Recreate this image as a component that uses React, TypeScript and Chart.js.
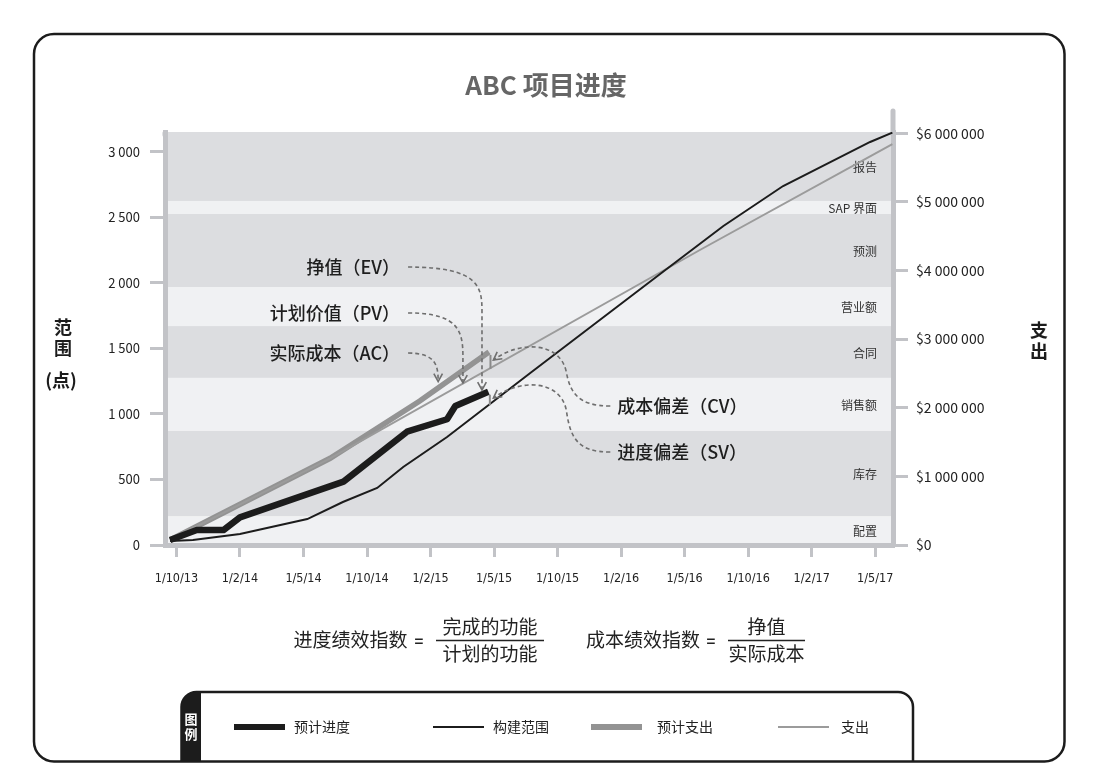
import React, { useEffect, useRef } from 'react';
import { Chart, registerables } from 'chart.js';

Chart.register(...registerables);

const CJK = '"Noto Sans CJK SC", "Noto Sans", sans-serif';
const COND = '"DejaVu Sans Condensed", "Liberation Sans Narrow", "DejaVu Sans", sans-serif';

// ---------- data ----------
const X_LABELS = ['1/10/13', '1/2/14', '1/5/14', '1/10/14', '1/2/15', '1/5/15', '1/10/15', '1/2/16', '1/5/16', '1/10/16', '1/2/17', '1/5/17'];
const LEFT_TICKS = [0, 500, 1000, 1500, 2000, 2500, 3000];
const RIGHT_TICKS = [0, 1000000, 2000000, 3000000, 4000000, 5000000, 6000000];

// 预计进度 (points)
const PROGRESS_X = [-0.1, 0.32, 0.74, 1.0, 2.63, 3.63, 4.26, 4.39, 4.91];
const PROGRESS_Y = [38, 114, 114, 211, 483, 864, 959, 1060, 1169];

// 构建范围 (points)
const SCOPE_X = [-0.1, 0.26, 1.0, 2.06, 2.62, 3.16, 3.57, 4.26, 5.57, 7.65, 8.61, 9.55, 10.92, 11.27];
const SCOPE_Y = [31, 38, 84, 198, 328, 435, 595, 824, 1312, 2080, 2433, 2738, 3074, 3145];

// 预计支出 ($)
const PLANNED_SPEND_X = [-0.1, 2.42, 3.83, 4.92];
const PLANNED_SPEND_Y = [73000, 1264000, 2099000, 2813000];

// 支出 ($)
const SPEND_X = [-0.1, 2.42, 8.24, 11.27];
const SPEND_Y = [73000, 1264000, 4300000, 5845000];

// background bands (in points)
const BAND_EDGES = [0, 220, 870, 1275, 1670, 1968, 2525, 2624, 3150];
const BAND_NAMES = ['配置', '库存', '销售额', '合同', '营业额', '预测', 'SAP 界面', '报告'];

// annotations (x in tick index units, y in points)
const ANNO_TEXT = ['挣值（EV）', '计划价值（PV）', '实际成本（AC）', '成本偏差（CV）', '进度偏差（SV）'];
const ANNO_LABEL_X = [3.52, 3.52, 3.52, 6.94, 6.94];
const ANNO_LABEL_Y = [2120, 1770, 1464, 1060, 709];
const ANNO_TIP_X = [4.81, 4.51, 4.12, 4.99, 4.99];
const ANNO_TIP_Y = [1182, 1236, 1246, 1411, 1121];
const ANNO_SIDE = ['left', 'left', 'left', 'right', 'right'];

const TITLE = 'ABC 项目进度';
const LEFT_TITLE = ['范', '围', '(点)'];
const RIGHT_TITLE = ['支', '出'];

// ---------- helpers ----------
const fmtNum = (v: number) => String(Math.round(v)).replace(/\B(?=(\d{3})+(?!\d))/g, ' ');
const toPoints = (xs: number[], ys: number[]) => xs.map((x, i) => ({ x, y: ys[i] }));
function interp(xs: number[], ys: number[], x: number) {
  for (let i = 0; i < xs.length - 1; i++) {
    if (x >= xs[i] && x <= xs[i + 1]) {
      const t = (x - xs[i]) / (xs[i + 1] - xs[i]);
      return ys[i] + t * (ys[i + 1] - ys[i]);
    }
  }
  return ys[ys.length - 1];
}
function roundRectPath(ctx: any, x: number, y: number, w: number, h: number, r: number) {
  ctx.beginPath();
  ctx.moveTo(x + r, y);
  ctx.lineTo(x + w - r, y);
  ctx.arcTo(x + w, y, x + w, y + r, r);
  ctx.lineTo(x + w, y + h - r);
  ctx.arcTo(x + w, y + h, x + w - r, y + h, r);
  ctx.lineTo(x + r, y + h);
  ctx.arcTo(x, y + h, x, y + h - r, r);
  ctx.lineTo(x, y + r);
  ctx.arcTo(x, y, x + r, y, r);
  ctx.closePath();
}
function arrowHead(ctx: any, tx: number, ty: number, dx: number, dy: number) {
  const len = Math.hypot(dx, dy) || 1;
  const ux = dx / len, uy = dy / len;
  const size = 9, ang = 0.5;
  const cos = Math.cos(ang), sin = Math.sin(ang);
  const bx = -ux, by = -uy;
  const ax1 = bx * cos - by * sin, ay1 = bx * sin + by * cos;
  const ax2 = bx * cos + by * sin, ay2 = -bx * sin + by * cos;
  ctx.beginPath();
  ctx.moveTo(tx + ax1 * size, ty + ay1 * size);
  ctx.lineTo(tx, ty);
  ctx.lineTo(tx + ax2 * size, ty + ay2 * size);
  ctx.stroke();
}

const AXIS_GREY = '#c2c3c7';
const BAND_LIGHT = '#f0f1f3';
const BAND_DARK = '#dcdde0';
const INK = '#1c1c1c';

const decorPlugin = {
  id: 'decor',
  beforeDraw(chart: any) {
    const { ctx, chartArea: ca, scales } = chart;
    const yL = scales.yL;
    ctx.save();
    for (let i = 0; i < BAND_NAMES.length; i++) {
      const yTop = yL.getPixelForValue(BAND_EDGES[i + 1]);
      const yBot = yL.getPixelForValue(BAND_EDGES[i]);
      ctx.fillStyle = i % 2 === 0 ? BAND_LIGHT : BAND_DARK;
      ctx.fillRect(ca.left, yTop, ca.right - ca.left, yBot - yTop);
    }
    // outer frame
    ctx.strokeStyle = INK;
    ctx.lineWidth = 2.5;
    roundRectPath(ctx, 34, 34, 1030.5, 727.5, 20);
    ctx.stroke();
    // title
    ctx.fillStyle = '#666';
    ctx.font = `bold 26px ${CJK}`;
    ctx.textAlign = 'center';
    ctx.textBaseline = 'middle';
    ctx.fillText(TITLE, 546, 85);
    ctx.restore();
  },
  beforeDatasetsDraw(chart: any) {
    const { ctx, chartArea: ca, scales } = chart;
    const yL = scales.yL;
    ctx.save();
    ctx.fillStyle = '#333';
    ctx.font = `12px ${CJK}`;
    ctx.textAlign = 'right';
    ctx.textBaseline = 'middle';
    for (let i = 0; i < BAND_NAMES.length; i++) {
      const yc = (yL.getPixelForValue(BAND_EDGES[i + 1]) + yL.getPixelForValue(BAND_EDGES[i])) / 2;
      ctx.fillText(BAND_NAMES[i], ca.right - 16, yc + 1);
    }
    // axis line caps / right extension
    ctx.strokeStyle = AXIS_GREY;
    ctx.lineWidth = 5;
    ctx.lineCap = 'round';
    ctx.beginPath();
    ctx.moveTo(ca.right, ca.top - 21);
    ctx.lineTo(ca.right, ca.top + 2);
    ctx.stroke();
    ctx.beginPath();
    ctx.moveTo(ca.left, ca.top + 1);
    ctx.lineTo(ca.left, ca.top + 3);
    ctx.stroke();
    ctx.restore();
  },
  afterDatasetsDraw(chart: any) {
    const { ctx, scales } = chart;
    const xs = scales.x, yL = scales.yL, yR = scales.yR;
    ctx.save();
    // variance bars
    const pairs = [
      { tx: PLANNED_SPEND_X, ty: PLANNED_SPEND_Y, nx: SPEND_X, ny: SPEND_Y, ax: yR },
      { tx: PROGRESS_X, ty: PROGRESS_Y, nx: SCOPE_X, ny: SCOPE_Y, ax: yL },
    ];
    ctx.strokeStyle = '#8a8a8a';
    ctx.lineWidth = 2;
    for (const p of pairs) {
      const lx = p.tx[p.tx.length - 1];
      const px = xs.getPixelForValue(lx) + 1.5;
      const y1 = p.ax.getPixelForValue(p.ty[p.ty.length - 1]) + 3;
      const y2 = p.ax.getPixelForValue(interp(p.nx, p.ny, lx));
      ctx.beginPath();
      ctx.moveTo(px, y1);
      ctx.lineTo(px, y2);
      ctx.stroke();
    }
    // annotations
    for (let i = 0; i < ANNO_TEXT.length; i++) {
      const lx = xs.getPixelForValue(ANNO_LABEL_X[i]);
      const ly = yL.getPixelForValue(ANNO_LABEL_Y[i]);
      const tx = xs.getPixelForValue(ANNO_TIP_X[i]);
      const ty = yL.getPixelForValue(ANNO_TIP_Y[i]);
      ctx.fillStyle = '#1e1e1e';
      ctx.font = `500 18px ${CJK}`;
      ctx.textBaseline = 'middle';
      ctx.strokeStyle = '#6e6e6e';
      ctx.lineWidth = 1.6;
      if (ANNO_SIDE[i] === 'left') {
        ctx.textAlign = 'right';
        ctx.fillText(ANNO_TEXT[i], lx, ly);
        const sx = lx + 8, sy = ly;
        const bendY = Math.min(sy + 45, ty);
        ctx.setLineDash([4, 3]);
        ctx.beginPath();
        ctx.moveTo(sx, sy);
        ctx.bezierCurveTo(tx - 2, sy, tx, sy + (bendY - sy) * 0.45, tx, bendY);
        if (bendY < ty) ctx.lineTo(tx, ty);
        ctx.stroke();
        ctx.setLineDash([]);
        arrowHead(ctx, tx, ty, 0, 1);
      } else {
        ctx.textAlign = 'left';
        ctx.fillText(ANNO_TEXT[i], lx, ly);
        const sx = lx - 7, sy = ly;
        const mx = sx - 44, my = ty + 12;
        ctx.setLineDash([4, 3]);
        ctx.beginPath();
        ctx.moveTo(sx, sy);
        ctx.bezierCurveTo(sx - 32, sy, mx + 4, sy - 13, mx, my);
        ctx.bezierCurveTo(mx - 6, my - 30, tx + 27, ty - 20, tx, ty);
        ctx.stroke();
        ctx.setLineDash([]);
        arrowHead(ctx, tx, ty, -27, 20);
      }
    }
    ctx.restore();
  },
  afterDraw(chart: any) {
    const { ctx, chartArea: ca } = chart;
    ctx.save();
    // axis titles
    ctx.fillStyle = INK;
    ctx.font = `bold 18px ${CJK}`;
    ctx.textAlign = 'center';
    ctx.textBaseline = 'middle';
    const cy = (ca.top + ca.bottom) / 2;
    ctx.fillText(LEFT_TITLE[0], 63, cy - 11);
    ctx.fillText(LEFT_TITLE[1], 63, cy + 10);
    ctx.fillText(LEFT_TITLE[2], 61, cy + 42);
    ctx.fillText(RIGHT_TITLE[0], 1039, cy - 8);
    ctx.fillText(RIGHT_TITLE[1], 1039, cy + 13);

    // formulas
    ctx.fillStyle = '#222';
    ctx.font = `19px ${CJK}`;
    ctx.fillText('进度绩效指数', 350.5, 640);
    ctx.fillText('完成的功能', 490, 627);
    ctx.fillText('计划的功能', 490, 654);
    ctx.fillText('成本绩效指数', 643, 640);
    ctx.fillText('挣值', 766.5, 627);
    ctx.fillText('实际成本', 766.5, 654);
    ctx.font = `bold 15px ${CJK}`;
    ctx.fillText('=', 419, 641);
    ctx.fillText('=', 711, 641);
    ctx.strokeStyle = '#222';
    ctx.lineWidth = 1.5;
    ctx.beginPath();
    ctx.moveTo(436, 640.5); ctx.lineTo(544, 640.5);
    ctx.moveTo(728, 640.5); ctx.lineTo(805, 640.5);
    ctx.stroke();

    // legend box
    ctx.strokeStyle = INK;
    ctx.lineWidth = 2.5;
    ctx.beginPath();
    ctx.moveTo(181.5, 761);
    ctx.lineTo(181.5, 707);
    ctx.arcTo(181.5, 692, 196.5, 692, 15);
    ctx.lineTo(898, 692);
    ctx.arcTo(913, 692, 913, 707, 15);
    ctx.lineTo(913, 761);
    ctx.stroke();
    ctx.fillStyle = INK;
    ctx.beginPath();
    ctx.moveTo(181.5, 761);
    ctx.lineTo(181.5, 707);
    ctx.arcTo(181.5, 692, 196.5, 692, 15);
    ctx.lineTo(201, 692);
    ctx.lineTo(201, 761);
    ctx.closePath();
    ctx.fill();
    ctx.fillStyle = '#fff';
    ctx.font = `bold 13px ${CJK}`;
    ctx.fillText('图', 191, 719);
    ctx.fillText('例', 191, 734);

    const swX = [234, 433, 591, 778];
    const txX = [294, 493, 657, 841];
    const legendOrder = [0, 1, 2, 3];
    ctx.textAlign = 'left';
    ctx.font = `14px ${CJK}`;
    legendOrder.forEach((di, k) => {
      const ds: any = chart.data.datasets[di];
      ctx.strokeStyle = ds.borderColor;
      ctx.lineWidth = ds.borderWidth >= 5 ? 6 : 2;
      ctx.lineCap = 'butt';
      ctx.beginPath();
      ctx.moveTo(swX[k], 727);
      ctx.lineTo(swX[k] + 51, 727);
      ctx.stroke();
      ctx.fillStyle = '#222';
      ctx.fillText(ds.label, txX[k], 727);
    });
    ctx.restore();
  },
};

export default function App() {
  const ref = useRef<HTMLCanvasElement | null>(null);
  useEffect(() => {
    if (!ref.current) return;
    const chart = new Chart(ref.current, {
      type: 'line',
      data: {
        datasets: [
          { label: '预计进度', data: toPoints(PROGRESS_X, PROGRESS_Y), yAxisID: 'yL', borderColor: INK, borderWidth: 6.5, pointRadius: 0, order: 0, borderJoinStyle: 'round' },
          { label: '构建范围', data: toPoints(SCOPE_X, SCOPE_Y), yAxisID: 'yL', borderColor: INK, borderWidth: 2, pointRadius: 0, order: 1 },
          { label: '预计支出', data: toPoints(PLANNED_SPEND_X, PLANNED_SPEND_Y), yAxisID: 'yR', borderColor: '#939393', borderWidth: 5.5, pointRadius: 0, order: 3 },
          { label: '支出', data: toPoints(SPEND_X, SPEND_Y), yAxisID: 'yR', borderColor: '#9b9b9b', borderWidth: 2, pointRadius: 0, order: 2 },
        ] as any,
      },
      options: {
        responsive: false,
        maintainAspectRatio: false,
        animation: false,
        events: [],
        layout: { padding: { left: 105, right: 103, top: 132, bottom: 183 } },
        plugins: { legend: { display: false }, tooltip: { enabled: false }, title: { display: false } },
        elements: { line: { tension: 0, borderCapStyle: 'butt' } },
        scales: {
          x: {
            type: 'linear',
            position: 'bottom',
            min: -0.18,
            max: 11.28,
            afterBuildTicks: (s: any) => { s.ticks = X_LABELS.map((_, i) => ({ value: i })); },
            afterFit: (s: any) => { s.height = 50; },
            ticks: {
              callback: (v: any) => X_LABELS[Math.round(v)] ?? '',
              font: { family: COND, size: 12.5 },
              color: '#222',
              padding: 14,
              maxRotation: 0,
              autoSkip: false,
            },
            grid: { drawOnChartArea: false, color: AXIS_GREY, lineWidth: 3, tickLength: 12 },
            border: { display: true, color: AXIS_GREY, width: 5 },
          },
          yL: {
            type: 'linear',
            position: 'left',
            min: 0,
            max: 3150,
            afterBuildTicks: (s: any) => { s.ticks = LEFT_TICKS.map((v) => ({ value: v })); },
            afterFit: (s: any) => { s.width = 60; },
            ticks: { callback: (v: any) => fmtNum(v), font: { family: CJK, size: 13 }, color: '#222', padding: 10 },
            grid: { drawOnChartArea: false, color: AXIS_GREY, lineWidth: 3, tickLength: 15 },
            border: { display: true, color: AXIS_GREY, width: 5 },
          },
          yR: {
            type: 'linear',
            position: 'right',
            min: 0,
            max: 6020000,
            afterBuildTicks: (s: any) => { s.ticks = RIGHT_TICKS.map((v) => ({ value: v })); },
            afterFit: (s: any) => { s.width = 110; },
            ticks: { callback: (v: any) => '$' + fmtNum(v), font: { family: CJK, size: 14 }, color: '#222', padding: 8 },
            grid: { drawOnChartArea: false, color: AXIS_GREY, lineWidth: 3, tickLength: 15 },
            border: { display: true, color: AXIS_GREY, width: 5 },
          },
        },
      } as any,
      plugins: [decorPlugin as any],
    });
    return () => chart.destroy();
  }, []);
  return (
    <div style={{ position: 'absolute', left: 0, top: 0, width: 1106, height: 778, background: '#fff' }}>
      <canvas ref={ref} width={1106} height={778} style={{ display: 'block', width: 1106, height: 778 }} />
    </div>
  );
}
